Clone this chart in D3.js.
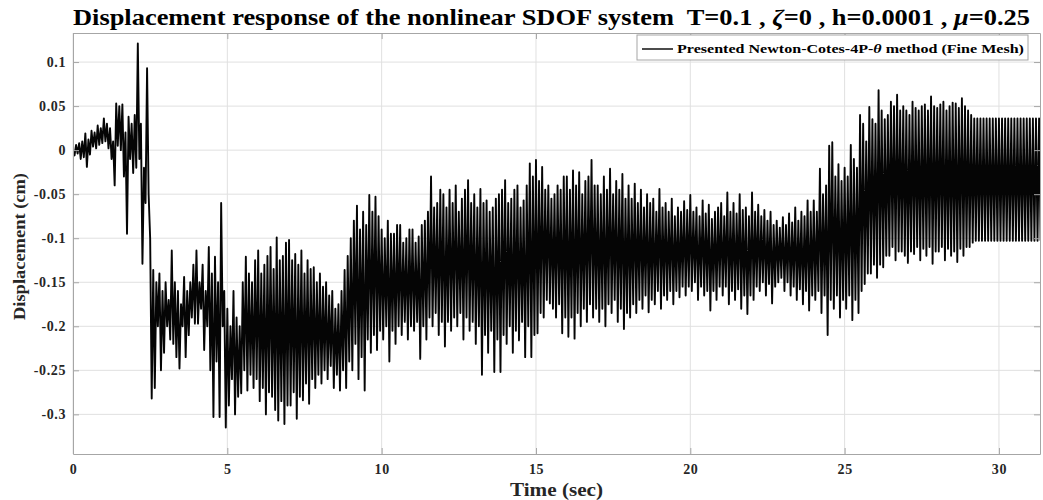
<!DOCTYPE html>
<html>
<head>
<meta charset="utf-8">
<script src="https://cdn.jsdelivr.net/npm/d3@7"></script>
<style>
  body { margin: 0; background: #fff; }
  text { font-family: "Liberation Serif", "Times New Roman", serif; font-weight: bold; white-space: pre; }
</style>
</head>
<body>
<div id="chart"></div>
<script>
// Time spacing between successive turning points of the response (sec)
const turnStep = 0.05;

// Upper turning points, at t = 0, 0.1, 0.2, ... (cm) - one row per second
const upperPeaks = [
    0.000, 0.006, 0.008, 0.010, 0.019, 0.012, 0.022, 0.020, 0.028, 0.025,
    0.036, 0.030, 0.025, 0.010, 0.053, 0.050, 0.052, 0.020, 0.038, 0.030,
    0.040, 0.121, 0.030, -0.020, 0.093, -0.100, -0.136, -0.150, -0.140, -0.160,
    -0.150, -0.170, -0.114, -0.150, -0.160, -0.175, -0.144, -0.160, -0.150, -0.130,
    -0.114, -0.150, -0.130, -0.160, -0.110, -0.140, -0.121, -0.150, -0.060, -0.160,
    -0.180, -0.200, -0.160, -0.190, -0.200, -0.150, -0.121, -0.140, -0.150, -0.125,
    -0.114, -0.140, -0.130, -0.120, -0.110, -0.135, -0.099, -0.125, -0.120, -0.105,
    -0.102, -0.125, -0.118, -0.130, -0.114, -0.140, -0.125, -0.135, -0.133, -0.150,
    -0.140, -0.155, -0.150, -0.165, -0.160, -0.180, -0.175, -0.160, -0.136, -0.120,
    -0.100, -0.080, -0.063, -0.090, -0.070, -0.085, -0.051, -0.070, -0.053, -0.075,
    -0.090, -0.100, -0.080, -0.095, -0.095, -0.085, -0.085, -0.105, -0.100, -0.090,
    -0.090, -0.105, -0.098, -0.085, -0.080, -0.070, -0.030, -0.065, -0.060, -0.045,
    -0.050, -0.065, -0.045, -0.060, -0.040, -0.070, -0.055, -0.045, -0.034, -0.060,
    -0.050, -0.065, -0.044, -0.060, -0.057, -0.070, -0.065, -0.055, -0.050, -0.045,
    -0.034, -0.060, -0.055, -0.045, -0.040, -0.065, -0.057, -0.040, -0.015, -0.030,
    -0.011, -0.035, -0.019, -0.045, -0.040, -0.055, -0.050, -0.040, -0.045, -0.030,
    -0.030, -0.045, -0.023, -0.040, -0.025, -0.050, -0.035, -0.030, -0.011, -0.040,
    -0.040, -0.050, -0.030, -0.045, -0.021, -0.050, -0.035, -0.045, -0.027, -0.055,
    -0.040, -0.055, -0.038, -0.060, -0.045, -0.065, -0.050, -0.060, -0.055, -0.070,
    -0.044, -0.065, -0.060, -0.070, -0.055, -0.075, -0.065, -0.070, -0.058, -0.068,
    -0.051, -0.070, -0.065, -0.075, -0.057, -0.072, -0.062, -0.078, -0.070, -0.065,
    -0.060, -0.075, -0.048, -0.070, -0.060, -0.072, -0.050, -0.068, -0.065, -0.075,
    -0.048, -0.070, -0.062, -0.075, -0.068, -0.080, -0.070, -0.085, -0.080, -0.088,
    -0.076, -0.085, -0.072, -0.082, -0.065, -0.080, -0.070, -0.075, -0.057, -0.070,
    -0.057, -0.070, -0.021, -0.050, -0.040, 0.005, 0.009, -0.030, -0.016, -0.035,
    -0.020, -0.030, 0.006, -0.010, -0.020, 0.040, 0.030, 0.010, 0.049, 0.035,
    0.030, 0.068, 0.045, 0.035, 0.040, 0.055, 0.050, 0.063, 0.045, 0.050,
    0.045, 0.040, 0.055, 0.048, 0.045, 0.050, 0.052, 0.045, 0.061, 0.050,
    0.048, 0.052, 0.055, 0.045, 0.050, 0.054, 0.053, 0.048, 0.059, 0.050,
    0.045, 0.040, 0.036, 0.036, 0.036, 0.036, 0.036, 0.036, 0.036, 0.036,
    0.036, 0.036, 0.036, 0.036, 0.036, 0.036, 0.036, 0.036, 0.036, 0.036,
    0.036, 0.036, 0.036, 0.036
];

// Lower turning points, at t = 0.05, 0.15, 0.25, ... (cm) - one row per second
const lowerPeaks = [
    -0.006, -0.004, -0.010, -0.008, -0.019, -0.005, 0.004, 0.002, 0.006, 0.008,
    0.010, 0.002, -0.010, -0.040, 0.005, 0.000, -0.030, -0.095, -0.010, -0.026,
    -0.020, -0.010, -0.129, -0.060, -0.050, -0.282, -0.270, -0.200, -0.250, -0.230,
    -0.200, -0.215, -0.220, -0.235, -0.248, -0.200, -0.235, -0.210, -0.190, -0.197,
    -0.197, -0.180, -0.227, -0.200, -0.250, -0.303, -0.240, -0.303, -0.200, -0.315,
    -0.290, -0.260, -0.300, -0.280, -0.276, -0.250, -0.273, -0.255, -0.270, -0.260,
    -0.285, -0.270, -0.300, -0.275, -0.280, -0.295, -0.307, -0.285, -0.311, -0.290,
    -0.290, -0.275, -0.305, -0.280, -0.284, -0.265, -0.288, -0.260, -0.270, -0.255,
    -0.265, -0.250, -0.260, -0.245, -0.270, -0.255, -0.273, -0.250, -0.270, -0.240,
    -0.250, -0.220, -0.260, -0.235, -0.273, -0.215, -0.230, -0.210, -0.227, -0.205,
    -0.215, -0.200, -0.240, -0.205, -0.220, -0.200, -0.210, -0.195, -0.215, -0.200,
    -0.205, -0.195, -0.237, -0.200, -0.215, -0.190, -0.200, -0.185, -0.210, -0.195,
    -0.223, -0.195, -0.205, -0.190, -0.200, -0.185, -0.215, -0.190, -0.205, -0.195,
    -0.220, -0.200, -0.255, -0.210, -0.230, -0.205, -0.252, -0.215, -0.252, -0.210,
    -0.220, -0.200, -0.230, -0.205, -0.216, -0.195, -0.235, -0.200, -0.235, -0.210,
    -0.208, -0.185, -0.190, -0.170, -0.174, -0.180, -0.190, -0.175, -0.208, -0.190,
    -0.212, -0.190, -0.214, -0.185, -0.200, -0.180, -0.195, -0.175, -0.190, -0.180,
    -0.195, -0.180, -0.200, -0.175, -0.185, -0.170, -0.195, -0.180, -0.203, -0.185,
    -0.190, -0.175, -0.185, -0.170, -0.180, -0.165, -0.184, -0.170, -0.175, -0.160,
    -0.180, -0.165, -0.170, -0.160, -0.175, -0.160, -0.167, -0.155, -0.165, -0.155,
    -0.160, -0.150, -0.170, -0.155, -0.165, -0.160, -0.182, -0.160, -0.170, -0.155,
    -0.165, -0.155, -0.175, -0.160, -0.170, -0.158, -0.180, -0.165, -0.186, -0.165,
    -0.170, -0.155, -0.160, -0.150, -0.165, -0.152, -0.174, -0.155, -0.150, -0.145,
    -0.160, -0.150, -0.165, -0.155, -0.170, -0.158, -0.175, -0.160, -0.182, -0.165,
    -0.170, -0.160, -0.185, -0.165, -0.210, -0.170, -0.180, -0.165, -0.190, -0.170,
    -0.180, -0.165, -0.193, -0.170, -0.185, -0.160, -0.152, -0.140, -0.140, -0.130,
    -0.145, -0.130, -0.133, -0.120, -0.120, -0.110, -0.125, -0.115, -0.115, -0.120,
    -0.128, -0.115, -0.118, -0.110, -0.125, -0.112, -0.120, -0.110, -0.129, -0.115,
    -0.115, -0.110, -0.125, -0.112, -0.120, -0.115, -0.127, -0.112, -0.120, -0.110,
    -0.110, -0.105, -0.103, -0.103, -0.103, -0.103, -0.103, -0.103, -0.103, -0.103,
    -0.103, -0.103, -0.103, -0.103, -0.103, -0.103, -0.103, -0.103, -0.103, -0.103,
    -0.103, -0.103, -0.103, -0.103
];

// Axis ticks
const xTicks = [0, 5, 10, 15, 20, 25, 30];
const yTicks = [-0.3, -0.25, -0.2, -0.15, -0.1, -0.05, 0, 0.05, 0.1];
const xDomain = [0, 31.33];
const yDomain = [-0.345, 0.133];

const width = 1043, height = 500;
const margin = { top: 33, right: 3, bottom: 46, left: 73 };
const innerW = width - margin.left - margin.right,
      innerH = height - margin.top - margin.bottom;

/**
 * Builds the list of {t, v} points, alternating upper and lower turning points
 */
function buildResponse(upper, lower) {
    var points = [];
    upper.forEach(function (u, k) {
        points.push({ t: 2 * k * turnStep, v: u });
        if (k < lower.length) {
            points.push({ t: (2 * k + 1) * turnStep, v: lower[k] });
        }
    });
    return points;
}

function formatTick(v) {
    return String(+v.toFixed(2));
}

const response = buildResponse(upperPeaks, lowerPeaks);

const svg = d3.select("#chart").append("svg")
    .attr("width", width)
    .attr("height", height);

const x = d3.scaleLinear().domain(xDomain).range([0, innerW]);
const y = d3.scaleLinear().domain(yDomain).range([innerH, 0]);

svg.append("defs").append("clipPath")
    .attr("id", "plotClip")
    .append("rect")
    .attr("width", innerW).attr("height", innerH);

const g = svg.append("g")
    .attr("transform", "translate(" + margin.left + "," + margin.top + ")");

// Grid lines
g.append("g").selectAll("line")
    .data(xTicks).enter().append("line")
    .attr("x1", d => x(d)).attr("x2", d => x(d))
    .attr("y1", 0).attr("y2", innerH)
    .attr("stroke", "#e0e0e0").attr("stroke-width", 1);
g.append("g").selectAll("line")
    .data(yTicks).enter().append("line")
    .attr("x1", 0).attr("x2", innerW)
    .attr("y1", d => y(d)).attr("y2", d => y(d))
    .attr("stroke", "#e0e0e0").attr("stroke-width", 1);

// Response curve
const line = d3.line()
    .x(d => x(d.t))
    .y(d => y(d.v));

g.append("path")
    .datum(response)
    .attr("clip-path", "url(#plotClip)")
    .attr("fill", "none")
    .attr("stroke", "#050505")
    .attr("stroke-width", 1.9)
    .attr("stroke-linejoin", "round")
    .attr("d", line);

// Axes (ticks inside, like matlab)
const tickColor = "#262626";
const xAxis = g.append("g")
    .attr("transform", "translate(0," + innerH + ")")
    .call(d3.axisBottom(x).tickValues(xTicks).tickSizeInner(-6).tickSizeOuter(0).tickPadding(10).tickFormat(formatTick));
const yAxis = g.append("g")
    .call(d3.axisLeft(y).tickValues(yTicks).tickSizeInner(-6).tickSizeOuter(0).tickPadding(7).tickFormat(formatTick));
const xTop = g.append("g")
    .call(d3.axisTop(x).tickValues(xTicks).tickSizeInner(-6).tickSizeOuter(0).tickFormat(""));
const yRight = g.append("g")
    .attr("transform", "translate(" + innerW + ",0)")
    .call(d3.axisRight(y).tickValues(yTicks).tickSizeInner(-6).tickSizeOuter(0).tickFormat(""));

[xAxis, yAxis, xTop, yRight].forEach(function (a) {
    a.select(".domain").attr("stroke", "#a6a6a6");
    a.selectAll(".tick line").attr("stroke", "#a6a6a6");
    a.selectAll(".tick text")
        .attr("fill", tickColor)
        .style("font-size", "14px")
        .style("letter-spacing", "0.6px")
        .style("font-family", "'Liberation Serif', serif")
        .style("font-weight", "bold");
});

// Title
const title = svg.append("text")
    .attr("x", 73).attr("y", 25)
    .attr("textLength", 957)
    .attr("lengthAdjust", "spacingAndGlyphs")
    .style("font-size", "23px")
    .attr("fill", "#000");
title.append("tspan").text("Displacement response of the nonlinear SDOF system  T=0.1 , ");
title.append("tspan").style("font-style", "italic").text("\u03B6");
title.append("tspan").text("=0 , h=0.0001 , ");
title.append("tspan").style("font-style", "italic").text("\u03BC");
title.append("tspan").text("=0.25");

// Axis labels
svg.append("text")
    .attr("x", 510).attr("y", 496)
    .attr("textLength", 93)
    .attr("lengthAdjust", "spacingAndGlyphs")
    .style("font-size", "18px")
    .attr("fill", tickColor)
    .text("Time (sec)");

svg.append("text")
    .attr("transform", "translate(25,320) rotate(-90)")
    .attr("textLength", 147)
    .attr("lengthAdjust", "spacingAndGlyphs")
    .style("font-size", "16px")
    .attr("fill", tickColor)
    .text("Displacement (cm)");

// Legend
const legend = svg.append("g");
legend.append("rect")
    .attr("x", 637).attr("y", 35)
    .attr("width", 391).attr("height", 25)
    .attr("fill", "#fff")
    .attr("stroke", "#a6a6a6");
legend.append("line")
    .attr("x1", 642).attr("x2", 673)
    .attr("y1", 49).attr("y2", 49)
    .attr("stroke", "#111").attr("stroke-width", 1.5);
const legendText = legend.append("text")
    .attr("x", 677).attr("y", 53)
    .attr("textLength", 347)
    .attr("lengthAdjust", "spacingAndGlyphs")
    .style("font-size", "12px")
    .attr("fill", "#000");
legendText.append("tspan").text("Presented Newton-Cotes-4P-");
legendText.append("tspan").style("font-style", "italic").text("\u03B8");
legendText.append("tspan").text(" method (Fine Mesh)");
</script>
</body>
</html>
